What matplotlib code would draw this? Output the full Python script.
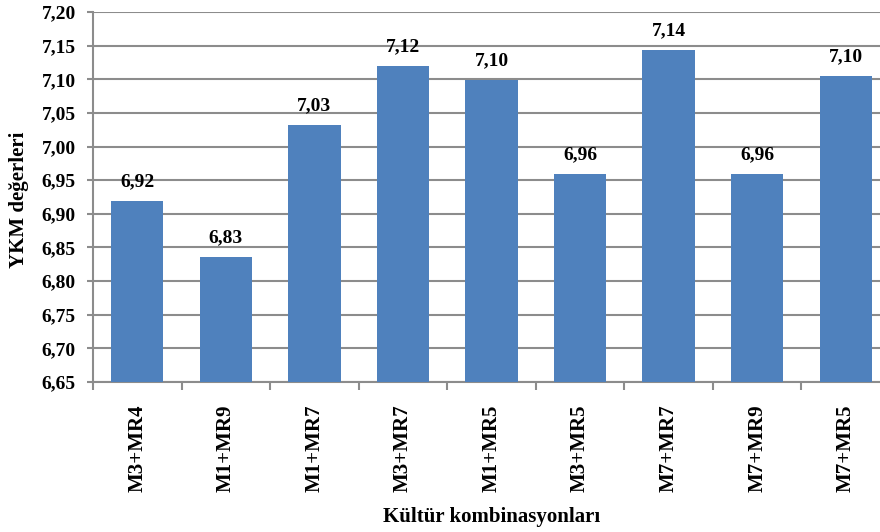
import matplotlib.pyplot as plt
import numpy as np

categories = ["M3+MR4", "M1+MR9", "M1+MR7", "M3+MR7", "M1+MR5",
              "M3+MR5", "M7+MR7", "M7+MR9", "M7+MR5"]
values = [6.919, 6.836, 7.032, 7.120, 7.099, 6.959, 7.143, 6.959, 7.105]
labels = ["6,92", "6,83", "7,03", "7,12", "7,10", "6,96", "7,14", "6,96", "7,10"]
yticks = np.arange(6.65, 7.2001, 0.05)

plt.rcParams['font.family'] = ['Liberation Serif', 'DejaVu Serif']
plt.rcParams['font.weight'] = 'bold'

fig = plt.figure(figsize=(8.8, 5.32), dpi=100)
# plot area runs a little past the right edge of the picture, as in the original
ax = fig.add_axes([93 / 880, 1 - 382 / 532, 797 / 880, 370 / 532])

x = np.arange(len(categories))
ax.bar(x, values, width=0.59, color="#4F81BD", zorder=3)

for xi, v, lab in zip(x, values, labels):
    ax.text(xi, v + 0.016, lab, ha="center", va="bottom",
            fontsize=14, fontweight="bold")

ax.set_ylim(6.65, 7.20)
ax.set_xlim(-0.5, len(categories) - 0.5)
ax.set_yticks(yticks)
ax.set_yticklabels([f"{t:.2f}".replace(".", ",") for t in yticks],
                   fontsize=14, fontweight="bold")
ax.yaxis.grid(True, color="#8c8c8c", linewidth=1.5, zorder=0)
ax.set_axisbelow(True)

ax.set_xticks(x)
ax.set_xticklabels(categories, rotation=90, fontsize=15, fontweight="bold")
ax.set_xticks(np.arange(-0.5, len(categories), 1), minor=True)
ax.tick_params(axis="x", which="major", length=0, pad=16)
ax.tick_params(axis="x", which="minor", length=6, color="#8c8c8c", width=1.5)
ax.tick_params(axis="y", length=4.5, color="#8c8c8c", width=1.5, pad=8)

for s in ["top", "right"]:
    ax.spines[s].set_visible(False)
for s in ["left", "bottom"]:
    ax.spines[s].set_color("#8c8c8c")
    ax.spines[s].set_linewidth(1.5)

fig.text(19 / 880, 1 - 200 / 532, "YKM değerleri", rotation=90, ha="center",
         va="center", fontsize=15, fontweight="bold")
fig.text(492 / 880, 1 - 517 / 532, "Kültür kombinasyonları", ha="center",
         va="center", fontsize=15, fontweight="bold")

fig.savefig("out.png", dpi=100)
